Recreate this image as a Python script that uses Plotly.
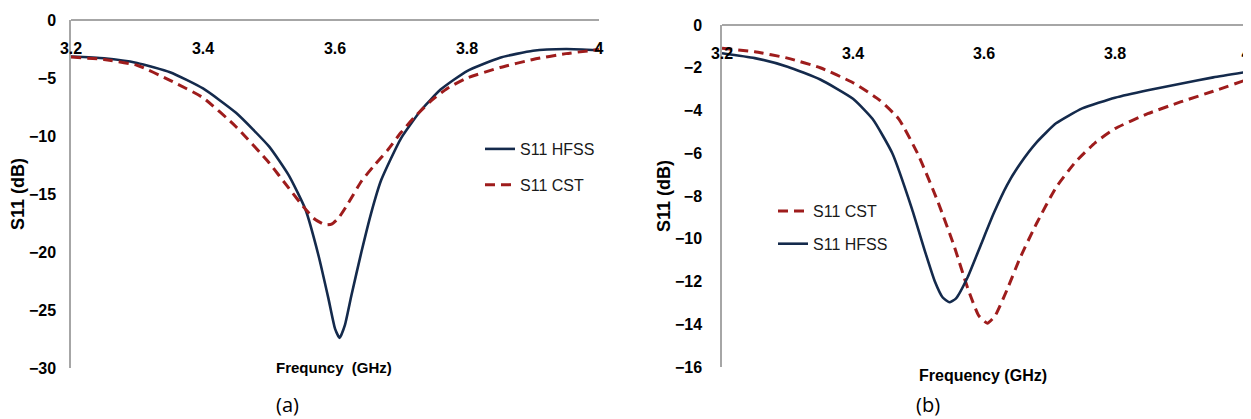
import plotly.graph_objects as go

# ---------------- data ----------------
# (a) left panel
a_hfss_f = [3.20, 3.25, 3.30, 3.35, 3.40, 3.45, 3.50, 3.53, 3.555, 3.575, 3.59, 3.600, 3.607,
            3.615, 3.625, 3.64, 3.655, 3.67, 3.70, 3.73, 3.76, 3.80, 3.85, 3.90, 3.95, 4.00]
a_hfss_s = [-3.15, -3.3, -3.7, -4.5, -5.9, -8.0, -10.9, -13.4, -16.3, -20.3, -24.0, -26.6, -27.4,
            -26.3, -23.7, -20.0, -16.6, -13.8, -10.2, -7.8, -6.0, -4.4, -3.25, -2.65, -2.5, -2.6]
a_cst_f = [3.20, 3.25, 3.30, 3.35, 3.40, 3.45, 3.50, 3.53, 3.555, 3.57, 3.585, 3.595, 3.605,
           3.62, 3.64, 3.66, 3.68, 3.70, 3.72, 3.745, 3.77, 3.80, 3.85, 3.90, 3.95, 4.00]
a_cst_s = [-3.2, -3.4, -3.9, -5.2, -6.7, -9.2, -12.3, -14.5, -16.3, -17.2, -17.65, -17.6, -17.1,
           -15.8, -13.9, -12.5, -11.2, -9.7, -8.4, -7.0, -5.9, -5.0, -4.1, -3.4, -2.9, -2.55]

# (b) right panel
b_hfss_f = [3.20, 3.25, 3.30, 3.35, 3.40, 3.43, 3.46, 3.49, 3.51, 3.525, 3.537, 3.547, 3.557,
            3.575, 3.595, 3.615, 3.635, 3.655, 3.68, 3.71, 3.75, 3.80, 3.85, 3.90, 3.95, 4.00]
b_hfss_s = [-1.32, -1.55, -1.95, -2.55, -3.45, -4.4, -6.0, -8.6, -10.6, -12.0, -12.75, -12.97, -12.8,
            -11.8, -10.3, -8.8, -7.5, -6.5, -5.5, -4.6, -3.9, -3.4, -3.05, -2.75, -2.45, -2.2]
b_cst_f = [3.20, 3.25, 3.30, 3.35, 3.40, 3.44, 3.47, 3.50, 3.53, 3.555, 3.575, 3.592, 3.605,
           3.617, 3.635, 3.655, 3.68, 3.71, 3.74, 3.77, 3.80, 3.85, 3.90, 3.95, 4.00]
b_cst_s = [-1.09, -1.25, -1.55, -2.0, -2.7, -3.5, -4.4, -6.1, -8.3, -10.4, -12.3, -13.6, -13.95,
           -13.6, -12.4, -10.9, -9.3, -7.6, -6.4, -5.5, -4.85, -4.15, -3.6, -3.1, -2.57]

x_tickvals = [3.2, 3.4, 3.6, 3.8, 4.0]
x_ticktext = ["3.2", "3.4", "3.6", "3.8", "4"]
a_yticks = [0, -5, -10, -15, -20, -25, -30]
b_yticks = [0, -2, -4, -6, -8, -10, -12, -14, -16]

# ---------------- styling ----------------
W, H = 1251, 419          # browser window
OFF = 8                   # default page (body) margin around the plot div
FW, FH = W - OFF, H - OFF  # figure size so that it fits the window
HFSS_COLOR = "#142a4c"
CST_COLOR = "#9e1c1c"
AXIS_COLOR = "#a6a6a6"
SANS = "Liberation Sans, Arial, sans-serif"
TICK_FONT = dict(family=SANS, size=16, color="#000000", weight="bold")
LEG_FONT = dict(family=SANS, size=16, color="#1a1a1a")
YTITLE_FONT = dict(family=SANS, size=18, color="#000000", weight="bold")


def px_x(p):
    """window pixel -> paper fraction"""
    return (p - OFF) / FW


def px_y(p):
    return 1 - (p - OFF) / FH


fig = go.Figure()

line_hfss = dict(color=HFSS_COLOR, width=2.6, shape="spline", smoothing=0.5)
line_cst = dict(color=CST_COLOR, width=3, dash="10px,6px", shape="spline", smoothing=0.5)

fig.add_trace(go.Scatter(x=a_hfss_f, y=a_hfss_s, mode="lines", name="S11 HFSS", line=line_hfss,
                         xaxis="x", yaxis="y", legend="legend", legendgroup="a1"))
fig.add_trace(go.Scatter(x=a_cst_f, y=a_cst_s, mode="lines", name="S11 CST", line=line_cst,
                         xaxis="x", yaxis="y", legend="legend", legendgroup="a2"))
fig.add_trace(go.Scatter(x=b_cst_f, y=b_cst_s, mode="lines", name="S11 CST", line=line_cst,
                         xaxis="x2", yaxis="y2", legend="legend2", legendgroup="b1"))
fig.add_trace(go.Scatter(x=b_hfss_f, y=b_hfss_s, mode="lines", name="S11 HFSS", line=line_hfss,
                         xaxis="x2", yaxis="y2", legend="legend2", legendgroup="b2"))

a_dom_x = [px_x(71), px_x(599)]
a_dom_y = [px_y(368), px_y(20)]
b_dom_x = [px_x(722), px_x(1246)]
b_dom_y = [px_y(367), px_y(25)]

common_x = dict(range=[3.2, 4.0], tickvals=x_tickvals, ticktext=x_ticktext, showgrid=False,
                zeroline=False, showline=True, linecolor=AXIS_COLOR, linewidth=2, ticks="",
                tickfont=TICK_FONT, anchor="free", side="bottom", automargin=False,
                ticklabelstandoff=14, ticklabeloverflow="allow", fixedrange=True)
common_y = dict(showgrid=False, zeroline=False, showline=True, linecolor=AXIS_COLOR, linewidth=1.5,
                ticks="", tickfont=TICK_FONT, automargin=False, ticklabeloverflow="allow",
                fixedrange=True)

fig.update_layout(
    width=FW, height=FH,
    margin=dict(l=0, r=0, t=0, b=0, pad=0, autoexpand=False),
    paper_bgcolor="white", plot_bgcolor="white",
    xaxis=dict(common_x, domain=a_dom_x, position=a_dom_y[1]),
    yaxis=dict(common_y, domain=a_dom_y, range=[-30, 0], tickvals=a_yticks, anchor="x",
               ticklabelstandoff=10,
               title=dict(text="S11 (dB)", font=YTITLE_FONT, standoff=0)),
    xaxis2=dict(common_x, domain=b_dom_x, position=b_dom_y[1]),
    yaxis2=dict(common_y, domain=b_dom_y, range=[-16, 0], tickvals=b_yticks, anchor="x2",
                ticklabelstandoff=15,
                title=dict(text="S11 (dB)", font=YTITLE_FONT, standoff=0)),
    legend=dict(x=px_x(480), y=px_y(132), xanchor="left", yanchor="top", font=LEG_FONT,
                bgcolor="rgba(0,0,0,0)", tracegroupgap=12, itemclick=False),
    legend2=dict(x=px_x(773), y=px_y(194), xanchor="left", yanchor="top", font=LEG_FONT,
                 bgcolor="rgba(0,0,0,0)", tracegroupgap=9, itemclick=False),
    showlegend=True,
    annotations=[
        dict(text="Frequncy  (GHz)", x=px_x(334), y=px_y(367), xref="paper", yref="paper",
             showarrow=False, font=dict(family=SANS, size=15, color="#000000", weight="bold"),
             xanchor="center", yanchor="middle"),
        dict(text="Frequency (GHz)", x=px_x(983), y=px_y(375), xref="paper", yref="paper",
             showarrow=False, font=dict(family=SANS, size=16, color="#000000", weight="bold"),
             xanchor="center", yanchor="middle"),
        dict(text="(a)", x=px_x(287), y=px_y(404), xref="paper", yref="paper", showarrow=False,
             font=dict(family="Open Sans, sans-serif", size=20, color="#000000"),
             xanchor="center", yanchor="middle"),
        dict(text="(b)", x=px_x(928), y=px_y(404), xref="paper", yref="paper", showarrow=False,
             font=dict(family="Open Sans, sans-serif", size=20, color="#000000"),
             xanchor="center", yanchor="middle"),
    ],
)

fig.write_html("out.html")
